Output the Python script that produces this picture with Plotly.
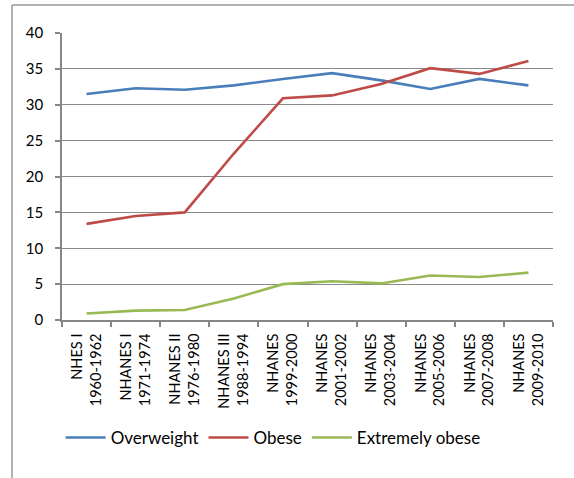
import plotly.graph_objects as go

categories = ["NHES I<br>1960-1962", "NHANES I<br>1971-1974", "NHANES II<br>1976-1980",
              "NHANES III<br>1988-1994", "NHANES<br>1999-2000", "NHANES<br>2001-2002",
              "NHANES<br>2003-2004", "NHANES<br>2005-2006", "NHANES<br>2007-2008",
              "NHANES<br>2009-2010"]
overweight = [31.5, 32.3, 32.1, 32.7, 33.6, 34.4, 33.4, 32.2, 33.6, 32.7]
obese = [13.4, 14.5, 15.0, 23.2, 30.9, 31.3, 32.9, 35.1, 34.3, 36.1]
extremely_obese = [0.9, 1.3, 1.4, 3.0, 5.0, 5.4, 5.1, 6.2, 6.0, 6.6]

font = "Lato, Carlito, 'Liberation Sans', sans-serif"
fig = go.Figure()
for name, vals, col in [("Overweight", overweight, "#4a7ebb"),
                        ("Obese", obese, "#be4b48"),
                        ("Extremely obese", extremely_obese, "#98b954")]:
    fig.add_trace(go.Scatter(x=categories, y=vals, name=name, mode="lines",
                             line=dict(color=col, width=2.6)))

L, R, T, B = 62, 21, 33, 158
W, H = 574, 478
pw, ph = W - L - R, H - T - B
bx = (12 - L) / pw
by = 1 + (T - 5) / ph

fig.update_layout(
    width=W, height=H,
    margin=dict(l=L, r=R, t=T, b=B, autoexpand=False),
    paper_bgcolor="white", plot_bgcolor="white",
    font=dict(family=font, size=14, color="black"),
    showlegend=True,
    legend=dict(orientation="h", x=0.43, xanchor="center", y=(320 - 438) / ph,
                yanchor="middle", font=dict(size=17, family=font), itemwidth=40,
                traceorder="normal"),
    xaxis=dict(type="category", tickangle=-90, showgrid=False, showline=True,
               linecolor="#868686", linewidth=1.5, ticks="outside", ticklen=5,
               tickcolor="#868686", tickwidth=1.5, tickson="boundaries",
               ticklabelstandoff=6,
               tickfont=dict(size=14.5, family=font), range=[-0.5, 9.5]),
    yaxis=dict(range=[0, 40], dtick=5, showgrid=True, gridcolor="#8a8a8a",
               gridwidth=1.2, showline=True, linecolor="#868686", linewidth=1.5,
               ticks="outside", ticklen=5, tickcolor="#868686", tickwidth=1.5,
               ticklabelstandoff=9,
               zeroline=False, tickfont=dict(size=15, family=font)),
    shapes=[
        dict(type="line", xref="paper", yref="paper", x0=bx, x1=1.2, y0=by, y1=by,
             line=dict(color="#9a9a9a", width=1.5)),
        dict(type="line", xref="paper", yref="paper", x0=bx, x1=bx, y0=by, y1=-0.7,
             line=dict(color="#9a9a9a", width=1.5)),
    ],
)
fig.write_html("out.html")
